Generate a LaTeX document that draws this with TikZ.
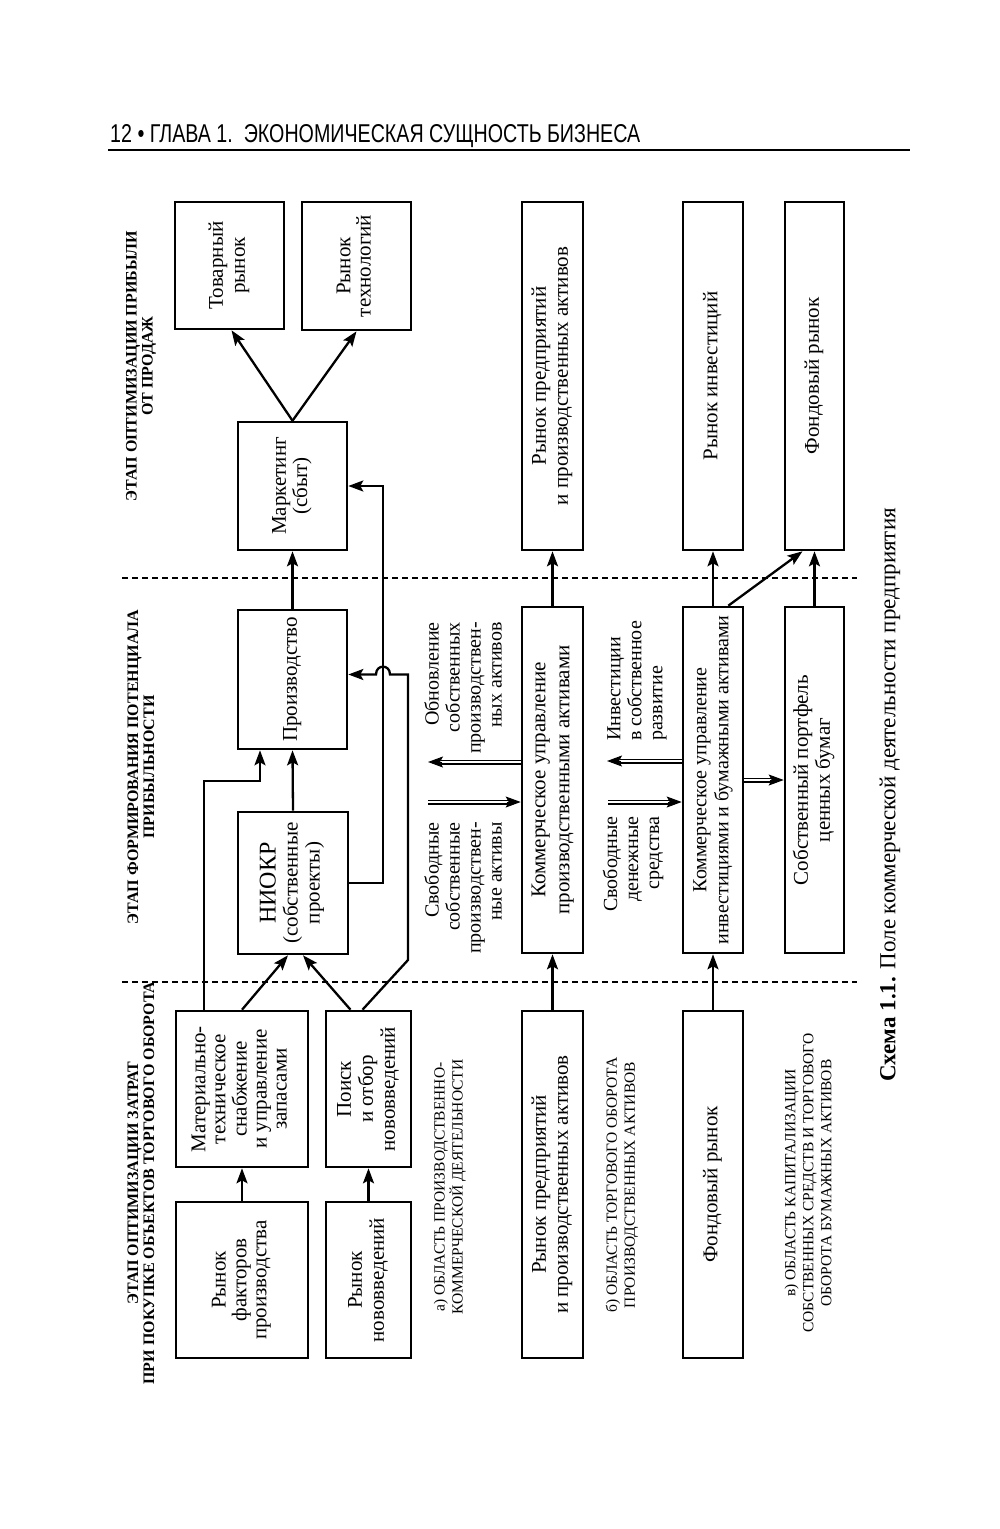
\documentclass[tikz,border=0pt]{standalone}
\usepackage{fontspec}
\setmainfont{Liberation Serif}
\setsansfont{Liberation Sans}
\usetikzlibrary{arrows.meta,calc}
\newcommand\rt[2][22pt]{\rotatebox{90}{\fontsize{21pt}{#1}\selectfont\begin{tabular}{@{}c@{}}#2\end{tabular}}}
\tikzset{
  bx/.style={draw, line width=2.6pt, inner sep=0pt},
  arr/.style={line width=2.3pt, -{Stealth[length=15pt,width=11pt,inset=3pt]}},
  dblshaft/.style={double, double distance=2.6pt, line width=1.2pt},
  dbltip/.style={line width=1pt, -{Stealth[length=15pt,width=11pt,inset=3pt]}},
  sep/.style={line width=1.1pt, dash pattern=on 6pt off 4pt},
  stage/.style={rotate=90, align=center, font=\fontsize{16pt}{16pt}\selectfont\bfseries, inner sep=0pt},
  area/.style={rotate=90, align=center, font=\fontsize{15.5pt}{18pt}\selectfont, inner sep=0pt},
  side/.style={rotate=90, font=\fontsize{20pt}{21pt}\selectfont, inner sep=0pt}
}
\begin{document}
\begin{tikzpicture}[x=1pt,y=-1pt]
\fill[white] (0,0) rectangle (1000,1529);
\useasboundingbox (0,0) rectangle (1000,1529);
% header
\node[anchor=base west, inner sep=0pt] (hdr) at (110,142) {\resizebox{530pt}{18pt}{\sffamily 12 • ГЛАВА 1.\ \ ЭКОНОМИЧЕСКАЯ СУЩНОСТЬ БИЗНЕСА}};
\draw[line width=1.8pt] (108,150) -- (910,150);
% stage labels
\node[stage] (st1) at (141,366) {ЭТАП ОПТИМИЗАЦИИ ПРИБЫЛИ\\ОТ ПРОДАЖ};
\node[stage] (st2) at (141,767) {ЭТАП ФОРМИРОВАНИЯ ПОТЕНЦИАЛА\\ПРИБЫЛЬНОСТИ};
\node[stage] (st3) at (141,1183) {ЭТАП ОПТИМИЗАЦИИ ЗАТРАТ\\ПРИ ПОКУПКЕ ОБЪЕКТОВ ТОРГОВОГО ОБОРОТА};
% separators
\draw[sep] (122,578) -- (857,578);
\draw[sep] (122,982) -- (857,982);
% column a boxes
\node[bx, minimum width=109, minimum height=127] (tov) at (229.5,265.5) {\rt{Товарный\\рынок}};
\node[bx, minimum width=109, minimum height=128] (tech) at (356.5,266) {\rt[20pt]{Рынок\\технологий}};
\node[bx, minimum width=109, minimum height=128] (mark) at (292.5,486) {\rt[20pt]{Маркетинг\\(сбыт)}};
\node[bx, minimum width=109, minimum height=139] (proizv) at (292.5,679.5) {\rt{Производство}};
\node[bx, minimum width=110, minimum height=142] (niokr) at (293,883) {\rt{{\fontsize{24pt}{22pt}\selectfont НИОКР}\\(собственные\\проекты)}};
\node[bx, minimum width=132, minimum height=156] (mat) at (242,1089) {\rt[20pt]{Материально-\\техническое\\снабжение\\и управление\\запасами}};
\node[bx, minimum width=132, minimum height=156] (rf) at (242,1280) {\rt[20pt]{Рынок\\факторов\\производства}};
\node[bx, minimum width=85, minimum height=156] (poisk) at (368.5,1089) {\rt{Поиск\\и отбор\\нововведений}};
\node[bx, minimum width=85, minimum height=156] (rn) at (368.5,1280) {\rt{Рынок\\нововведений}};
% column b boxes
\node[bx, minimum width=61, minimum height=348] (rp1) at (552.5,376) {\rt{Рынок предприятий\\и производственных активов}};
\node[bx, minimum width=61, minimum height=346] (kup) at (552.5,780) {\rt[24pt]{Коммерческое управление\\производственными активами}};
\node[bx, minimum width=61, minimum height=347] (rp2) at (552.5,1184.5) {\rt{Рынок предприятий\\и производственных активов}};
% column c boxes
\node[bx, minimum width=60, minimum height=348] (ri) at (713,376) {\rt{Рынок инвестиций}};
\node[bx, minimum width=59, minimum height=348] (fr1) at (814.5,376) {\rt{Фондовый рынок}};
\node[bx, minimum width=60, minimum height=346] (kui) at (713,780) {\rotatebox{90}{\fontsize{20pt}{22pt}\selectfont\begin{tabular}{@{}c@{}}Коммерческое управление\\инвестициями и бумажными активами\end{tabular}}};
\node[bx, minimum width=59, minimum height=346] (port) at (814.5,780) {\rt{Собственный портфель\\ценных бумаг}};
\node[bx, minimum width=60, minimum height=347] (fr2) at (713,1184.5) {\rt{Фондовый рынок}};
% side labels
\node[side, align=right] (lobn) at (463,688) {Обновление\\собственных\\производствен-\\ных активов};
\node[side, align=right] (lsv1) at (463,888) {Свободные\\собственные\\производствен-\\ные активы};
\node[side, align=left] (linv) at (637,681) {Инвестиции\\в собственное\\развитие};
\node[side, align=right] (lsv2) at (633,864) {Свободные\\денежные\\средства};
% area labels
\node[area] (ara) at (450,1187) {а) ОБЛАСТЬ ПРОИЗВОДСТВЕННО-\\КОММЕРЧЕСКОЙ ДЕЯТЕЛЬНОСТИ};
\node[area] (arb) at (622,1185) {б) ОБЛАСТЬ ТОРГОВОГО ОБОРОТА\\ПРОИЗВОДСТВЕННЫХ АКТИВОВ};
\node[area] (arc) at (808,1183) {в) ОБЛАСТЬ КАПИТАЛИЗАЦИИ\\СОБСТВЕННЫХ СРЕДСТВ И ТОРГОВОГО\\ОБОРОТА БУМАЖНЫХ АКТИВОВ};
% caption
\node[rotate=90, inner sep=0pt, font=\fontsize{23pt}{24pt}\selectfont] (cap) at (890,795) {\textbf{Схема 1.1.} Поле коммерческой деятельности предприятия};
% connectors column a
\draw[arr] (mark.north) -- ([xshift=2]tov.south);
\draw[arr] (mark.north) -- (tech.south);
\draw[arr] (proizv.north) -- (mark.south);
\draw[arr] (niokr.north) -- (proizv.south);
\draw[arr] (rf.north) -- (mat.south);
\draw[arr] (rn.north) -- (poisk.south);
\draw[arr] (mat.north) -- ([xshift=-5]niokr.south);
\draw[arr] ([xshift=-18]poisk.north) -- ([xshift=10]niokr.south);
\coordinate (m1) at (204,781);
\coordinate (m2) at (260,781);
\draw[arr] ([xshift=-38]mat.north) -- (m1) -- (m2) -- ([xshift=-32.5]proizv.south);
\coordinate (n1) at (383,883);
\coordinate (n2) at (383,486);
\draw[arr] (niokr.east) -- (n1) -- (n2) -- (mark.east);
\coordinate (p1) at (408,960);
\coordinate (p2) at (408,674.5);
\coordinate (h1) at (390,674.5);
\coordinate (h2) at (376,674.5);
\draw[arr] ([xshift=-6]poisk.north) -- (p1) -- (p2) -- (h1) .. controls (390,664) and (376,664) .. (h2) -- ([yshift=5]proizv.east);
% column b connectors
\draw[arr] (kup.north) -- (rp1.south);
\draw[arr] (rp2.north) -- (kup.south);
\coordinate (fa1) at (428,762);
\coordinate (fa2) at (428,802);
\draw[dblshaft] ([yshift=18]kup.west) -- ($(fa1)!13pt!([yshift=18]kup.west)$);
\draw[dbltip] ($(fa1)!14pt!([yshift=18]kup.west)$) -- (fa1);
\draw[dblshaft] (fa2) -- ($([yshift=-22]kup.west)!13pt!(fa2)$);
\draw[dbltip] ($([yshift=-22]kup.west)!14pt!(fa2)$) -- ([yshift=-22]kup.west);
% column c connectors
\draw[arr] (kui.north) -- (ri.south);
\draw[arr] (fr2.north) -- (kui.south);
\draw[arr] (port.north) -- (fr1.south);
\draw[arr] ([xshift=-16]kui.north east) -- ([xshift=-12]fr1.south);
\coordinate (fb1) at (607,761);
\coordinate (fb2) at (608,802);
\draw[dblshaft] ([yshift=19]kui.west) -- ($(fb1)!13pt!([yshift=19]kui.west)$);
\draw[dbltip] ($(fb1)!14pt!([yshift=19]kui.west)$) -- (fb1);
\draw[dblshaft] (fb2) -- ($([yshift=-22]kui.west)!13pt!(fb2)$);
\draw[dbltip] ($([yshift=-22]kui.west)!14pt!(fb2)$) -- ([yshift=-22]kui.west);
\draw[dblshaft] (kui.east) -- ($(port.west)!13pt!(kui.east)$);
\draw[dbltip] ($(port.west)!14pt!(kui.east)$) -- (port.west);
\end{tikzpicture}
\end{document}
